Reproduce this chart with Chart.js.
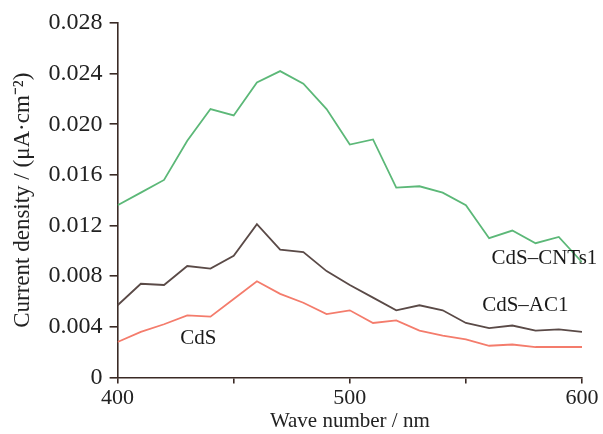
<!DOCTYPE html>
<html>
<head>
<meta charset="utf-8">
<script src="https://cdn.jsdelivr.net/npm/chart.js@4"></script>
<style>
  html, body { margin: 0; padding: 0; background: #fff; }
  #wrap { width: 603px; height: 434px; }
</style>
</head>
<body>
<div id="wrap"><canvas id="c" width="603" height="434"></canvas></div>
<script>
const wavelengths = [400,410,420,430,440,450,460,470,480,490,500,510,520,530,540,550,560,570,580,590,600];
const cdsCNTs1 = [0.0136,0.0146,0.0156,0.0187,0.0212,0.0207,0.0233,0.0242,0.0232,0.0212,0.0184,0.0188,0.0150,0.0151,0.0146,0.0136,0.0110,0.0116,0.0106,0.0111,0.0091];
const cdsAC1   = [0.0057,0.0074,0.0073,0.0088,0.0086,0.0096,0.0121,0.0101,0.0099,0.0084,0.0073,0.0063,0.0053,0.0057,0.0053,0.0043,0.0039,0.0041,0.0037,0.0038,0.0036];
const cds      = [0.0028,0.0036,0.0042,0.0049,0.0048,0.0062,0.0076,0.0066,0.0059,0.0050,0.0053,0.0043,0.0045,0.0037,0.0033,0.0030,0.0025,0.0026,0.0024,0.0024,0.0024];
const seriesNames = ['CdS\u2013CNTs1', 'CdS\u2013AC1', 'CdS'];
const yTickLabels = ['0','0.004','0.008','0.012','0.016','0.020','0.024','0.028'];
const xTickLabels = ['400','500','600'];

const toXY = arr => arr.map((v, i) => ({x: wavelengths[i], y: v}));

const labelSpots = [
  {text: seriesNames[0], x: 561, y: 0.0094},
  {text: seriesNames[1], x: 557, y: 0.0057},
  {text: seriesNames[2], x: 427, y: 0.0031}
];

const axisColor = '#3a2a25';
const serif = "'Liberation Serif', 'Times New Roman', serif";

const labelPlugin = {
  id: 'seriesLabels',
  afterDatasetsDraw(chart) {
    const {ctx, scales} = chart;
    ctx.save();
    ctx.font = "21px " + serif;
    ctx.fillStyle = '#1a1a1a';
    ctx.textAlign = 'left';
    ctx.textBaseline = 'middle';
    labelSpots.forEach(s => {
      ctx.fillText(s.text, scales.x.getPixelForValue(s.x), scales.y.getPixelForValue(s.y));
    });
    ctx.restore();
  }
};

new Chart(document.getElementById('c'), {
  type: 'line',
  data: {
    datasets: [
      {label: seriesNames[0], data: toXY(cdsCNTs1), borderColor: '#5cb878', borderWidth: 1.8, pointRadius: 0, tension: 0},
      {label: seriesNames[1], data: toXY(cdsAC1), borderColor: '#5a4a47', borderWidth: 1.8, pointRadius: 0, tension: 0},
      {label: seriesNames[2], data: toXY(cds), borderColor: '#f47c6c', borderWidth: 1.8, pointRadius: 0, tension: 0}
    ]
  },
  options: {
    responsive: false,
    animation: false,
    layout: {padding: {top: 23, right: 21, left: 9, bottom: 0}},
    plugins: {legend: {display: false}, tooltip: {enabled: false}},
    scales: {
      x: {
        type: 'linear', min: 400, max: 600,
        border: {display: true, color: axisColor, width: 1.6},
        grid: {display: true, drawOnChartArea: false, drawTicks: true, tickLength: 6, color: axisColor, lineWidth: 1.6},
        ticks: {
          stepSize: 50, padding: 2, color: '#222', font: {family: serif, size: 22},
          maxRotation: 0,
          callback: (v) => xTickLabels.includes(String(v)) ? String(v) : ''
        },
        title: {display: true, text: 'Wave number / nm', color: '#222', font: {family: serif, size: 21}, padding: {top: -5, bottom: 0}}
      },
      y: {
        min: 0, max: 0.028,
        border: {display: true, color: axisColor, width: 1.6},
        grid: {display: true, drawOnChartArea: false, drawTicks: true, tickLength: 8, color: axisColor, lineWidth: 1.6},
        ticks: {
          stepSize: 0.002, padding: 7, color: '#222', font: {family: serif, size: 24},
          callback: (v) => {
            const idx = Math.round(v / 0.004);
            return Math.abs(v - idx * 0.004) < 1e-9 ? yTickLabels[idx] : '';
          }
        },
        title: {display: true, text: 'Current density / (\u03bcA\u00b7cm\u207b\u00b2)', color: '#222', font: {family: serif, size: 23}, padding: {top: 0, bottom: 5}}
      }
    }
  },
  plugins: [labelPlugin]
});
</script>
</body>
</html>
